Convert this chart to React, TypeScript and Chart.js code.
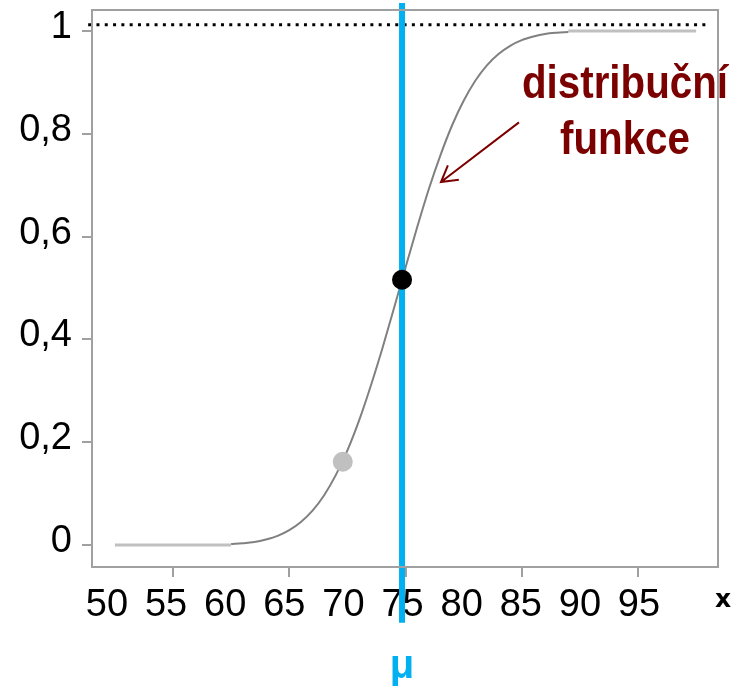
import React, { useEffect, useRef } from "react";
import { Chart, registerables } from "chart.js";

Chart.register(...registerables);

// ---- data ----
const xTickValues = [50, 55, 60, 65, 70, 75, 80, 85, 90, 95];
const xTickLabels = ["50", "55", "60", "65", "70", "75", "80", "85", "90", "95"];
const xMarkedTicks = [55, 65, 75, 85, 95];
const yTickValues = [0, 0.2, 0.4, 0.6, 0.8, 1];
const yTickLabels = ["0", "0,2", "0,4", "0,6", "0,8", "1"];

const tailLowX = [50, 60];
const tailLowY = [0, 0];
const curveX = [60, 61, 62, 63, 64, 65, 66, 67, 68, 69, 70, 71, 72, 73, 74, 75, 76, 77, 78, 79, 80, 81, 82, 83, 84, 85, 86, 87, 88, 89];
const curveY = [0.002, 0.0035, 0.006, 0.011, 0.018, 0.029, 0.045, 0.067, 0.097, 0.136, 0.184, 0.242, 0.309, 0.382, 0.46, 0.54, 0.618, 0.692, 0.758, 0.816, 0.864, 0.903, 0.933, 0.955, 0.971, 0.982, 0.989, 0.994, 0.9965, 0.998];
const tailHighX = [89, 100];
const tailHighY = [1, 1];
const limitX = [47.7, 100.85];
const limitY = [1.012, 1.012];
const muLineX = [74.7, 74.7];
const muLineY = [-0.151, 1.054];
const meanPointX = [74.7];
const meanPointY = [0.516];
const sigmaPointX = [69.6];
const sigmaPointY = [0.162];

const curveLabel = ["distribuční", "funkce"];
const muLabel = "μ";
const xAxisLabel = "x";

const pts = (xs: number[], ys: number[]) => xs.map((v, i) => ({ x: v, y: ys[i] }));

const AXIS_GRAY = "#a0a0a0";
const DARK_RED = "#7b0000";
const BLUE = "#00b0f0";

const annotationPlugin = {
  id: "annotations",
  afterDatasetsDraw(chart: any) {
    const { ctx } = chart;
    const xs = chart.scales.x;
    const ys = chart.scales.y;
    ctx.save();
    // arrow
    const ax0 = xs.getPixelForValue(84.76);
    const ay0 = ys.getPixelForValue(0.822);
    const ax1 = xs.getPixelForValue(78.05);
    const ay1 = ys.getPixelForValue(0.706);
    ctx.strokeStyle = DARK_RED;
    ctx.lineWidth = 2;
    ctx.beginPath();
    ctx.moveTo(ax0, ay0);
    ctx.lineTo(ax1, ay1);
    const ang = Math.atan2(ay0 - ay1, ax0 - ax1);
    const len = 18;
    const spread = (30 * Math.PI) / 180;
    ctx.moveTo(ax1 + len * Math.cos(ang + spread), ay1 + len * Math.sin(ang + spread));
    ctx.lineTo(ax1, ay1);
    ctx.lineTo(ax1 + len * Math.cos(ang - spread), ay1 + len * Math.sin(ang - spread));
    ctx.stroke();

    // curve label
    ctx.fillStyle = DARK_RED;
    ctx.textAlign = "center";
    ctx.textBaseline = "alphabetic";
    ctx.font = 'bold 46px "Liberation Sans Narrow", "Liberation Sans", sans-serif';
    const cx = xs.getPixelForValue(93.88);
    const baselines = [0.87, 0.76];
    const w0 = ctx.measureText(curveLabel[0]).width;
    const sx = 206 / w0;
    curveLabel.forEach((t, i) => {
      ctx.save();
      ctx.translate(cx, ys.getPixelForValue(baselines[i]));
      ctx.scale(sx, 1);
      ctx.fillText(t, 0, 0);
      ctx.restore();
    });

    // mu label
    ctx.fillStyle = BLUE;
    ctx.font = 'bold 40px "Liberation Sans", sans-serif';
    ctx.fillText(muLabel, xs.getPixelForValue(74.7), 678);

    // x label
    ctx.fillStyle = "#000";
    ctx.font = 'bold 25px "DejaVu Sans", sans-serif';
    ctx.fillText(xAxisLabel, 723, 607);
    ctx.restore();
  },
  afterDraw(chart: any) {
    const { ctx, chartArea } = chart;
    ctx.save();
    ctx.strokeStyle = AXIS_GRAY;
    ctx.lineWidth = 2;
    ctx.strokeRect(chartArea.left, chartArea.top, chartArea.right - chartArea.left, chartArea.bottom - chartArea.top);
    ctx.restore();
  },
};

const tickFont = { family: '"Liberation Sans", Arial, sans-serif', size: 38, lineHeight: 1.2 };

export default function App() {
  const ref = useRef<HTMLCanvasElement | null>(null);

  useEffect(() => {
    if (!ref.current) return;
    const chart = new Chart(ref.current, {
      type: "line",
      data: {
        datasets: [
          {
            label: "mean",
            data: pts(meanPointX, meanPointY),
            showLine: false,
            pointRadius: 10,
            pointBackgroundColor: "#000",
            pointBorderWidth: 0,
            order: 0,
            clip: false as any,
            xAxisID: "x",
            yAxisID: "y",
          },
          {
            label: "mu",
            data: pts(muLineX, muLineY),
            borderColor: BLUE,
            borderWidth: 6,
            pointRadius: 0,
            order: 1,
            clip: false as any,
            xAxisID: "x",
            yAxisID: "y",
          },
          {
            label: "sigma",
            data: pts(sigmaPointX, sigmaPointY),
            showLine: false,
            pointRadius: 10,
            pointBackgroundColor: "#c0c0c0",
            pointBorderWidth: 0,
            order: 2,
            xAxisID: "x",
            yAxisID: "y",
          },
          {
            label: "cdf",
            data: pts(curveX, curveY),
            borderColor: "#808080",
            borderWidth: 2,
            pointRadius: 0,
            cubicInterpolationMode: "monotone",
            order: 3,
            xAxisID: "x",
            yAxisID: "y",
          },
          {
            label: "low",
            data: pts(tailLowX, tailLowY),
            borderColor: "#c0c0c0",
            borderWidth: 3,
            pointRadius: 0,
            order: 4,
            xAxisID: "x",
            yAxisID: "y",
          },
          {
            label: "high",
            data: pts(tailHighX, tailHighY),
            borderColor: "#c0c0c0",
            borderWidth: 3,
            pointRadius: 0,
            order: 4,
            xAxisID: "x",
            yAxisID: "y",
          },
          {
            label: "limit",
            data: pts(limitX, limitY),
            borderColor: "#000",
            borderWidth: 3,
            borderDash: [3, 5.3],
            pointRadius: 0,
            order: 5,
            clip: false as any,
            xAxisID: "x",
            yAxisID: "y",
          },
        ],
      },
      options: {
        responsive: false,
        animation: false,
        layout: { padding: { left: 0, right: 30, top: 7, bottom: 0 } },
        plugins: { legend: { display: false }, tooltip: { enabled: false } },
        scales: {
          x: {
            type: "linear",
            position: "bottom",
            weight: 0,
            min: 48.03,
            max: 101.88,
            afterBuildTicks: (s: any) => {
              s.ticks = xTickValues.map((v) => ({ value: v }));
            },
            afterFit: (s: any) => {
              s.height = 12;
              s.paddingLeft = 0;
              s.paddingRight = 0;
            },
            grid: {
              drawOnChartArea: false,
              drawTicks: true,
              tickLength: 10,
              lineWidth: 2,
              color: (c: any) => (c.tick && xMarkedTicks.includes(c.tick.value) ? AXIS_GRAY : "rgba(0,0,0,0)"),
            },
            border: { display: true, color: AXIS_GRAY, width: 2 },
            ticks: { display: false },
          },
          x2: {
            type: "linear",
            position: "bottom",
            weight: 1,
            min: 48.731,
            max: 101.683,
            afterBuildTicks: (s: any) => {
              s.ticks = xTickValues.map((v) => ({ value: v }));
            },
            afterFit: (s: any) => {
              s.height = 108;
              s.paddingLeft = 0;
              s.paddingRight = 0;
            },
            grid: { display: false, drawTicks: false },
            border: { display: false },
            ticks: {
              padding: 4,
              autoSkip: false,
              maxRotation: 0,
              color: "#000",
              font: tickFont,
              callback: (v: any) => {
                const i = xTickValues.indexOf(Number(v));
                return i >= 0 ? xTickLabels[i] : "";
              },
            },
          },
          y: {
            type: "linear",
            min: -0.0426,
            max: 1.0406,
            afterBuildTicks: (s: any) => {
              s.ticks = yTickValues.map((v) => ({ value: v }));
            },
            afterFit: (s: any) => {
              s.width = 92;
              s.paddingTop = 0;
              s.paddingBottom = 0;
            },
            grid: { drawOnChartArea: false, tickLength: 10, lineWidth: 2, color: AXIS_GRAY },
            border: { display: true, color: AXIS_GRAY, width: 2 },
            ticks: {
              padding: 10,
              labelOffset: -3.5,
              autoSkip: false,
              color: "#000",
              font: tickFont,
              callback: (v: any) => {
                const i = yTickValues.findIndex((t) => Math.abs(t - Number(v)) < 1e-9);
                return i >= 0 ? yTickLabels[i] : "";
              },
            },
          },
        },
      } as any,
      plugins: [annotationPlugin],
    });
    return () => chart.destroy();
  }, []);

  return (
    <div style={{ position: "absolute", left: 0, top: 0, width: 748, height: 687 }}>
      <canvas ref={ref} width={748} height={687} style={{ display: "block", width: 748, height: 687 }} />
    </div>
  );
}
